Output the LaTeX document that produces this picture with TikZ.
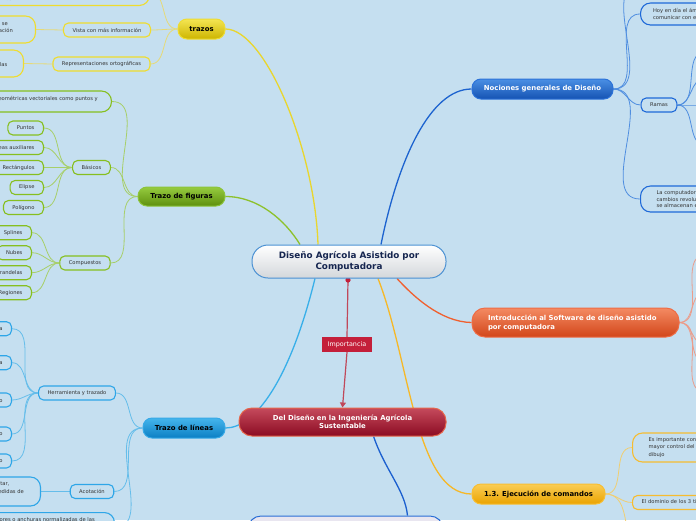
\documentclass[tikz,border=0pt]{standalone}
\usepackage{fontspec}
\setmainfont{DejaVu Sans}
\usetikzlibrary{arrows.meta,calc}
\pgfdeclarelayer{edges}
\pgfsetlayers{edges,main}
\definecolor{bg}{HTML}{C5DFF0}
\definecolor{txt}{HTML}{333333}
\definecolor{trzT}{HTML}{F4E552}\definecolor{trzB}{HTML}{CDB500}\definecolor{trzD}{HTML}{EEDC33}
\definecolor{subTrz}{HTML}{EFDC2E}\definecolor{lTrz}{HTML}{E6DA78}\definecolor{cTrz}{HTML}{E9D62D}
\definecolor{figT}{HTML}{96CB3F}\definecolor{figB}{HTML}{5E900E}\definecolor{figD}{HTML}{8CC43A}
\definecolor{subFig}{HTML}{86BF1F}\definecolor{lFig}{HTML}{A7CF69}\definecolor{cFig}{HTML}{8DC12B}
\definecolor{linT}{HTML}{45B5EC}\definecolor{linB}{HTML}{0B7FC4}\definecolor{linD}{HTML}{37A9E6}
\definecolor{subLin}{HTML}{2EA6E8}\definecolor{lLin}{HTML}{65BDEA}\definecolor{cLin}{HTML}{38AFE9}
\definecolor{nocT}{HTML}{4A8FE4}\definecolor{nocB}{HTML}{1553B3}\definecolor{nocD}{HTML}{2C72D8}
\definecolor{subNoc}{HTML}{1F69D8}\definecolor{lNoc}{HTML}{4F8EE0}\definecolor{cNoc}{HTML}{1D63CF}
\definecolor{intT}{HTML}{F48A62}\definecolor{intB}{HTML}{D2461A}\definecolor{intD}{HTML}{EE6C45}
\definecolor{lInt}{HTML}{EC9C8A}\definecolor{cInt}{HTML}{F0602F}
\definecolor{ejeT}{HTML}{FACD55}\definecolor{ejeB}{HTML}{EAA300}\definecolor{ejeD}{HTML}{F7BE33}
\definecolor{subEje}{HTML}{F6BC30}\definecolor{lEje}{HTML}{F1CE70}\definecolor{cEje}{HTML}{F6B828}
\definecolor{ddT}{HTML}{C54A5C}\definecolor{ddB}{HTML}{8C0B22}\definecolor{ddD}{HTML}{E5654A}
\definecolor{impC}{HTML}{C41F3A}\definecolor{impL}{HTML}{C0485A}
\definecolor{cenB}{HTML}{D3D7DB}\definecolor{cenD}{HTML}{4B91D3}\definecolor{cenT}{HTML}{15254F}
\definecolor{botD}{HTML}{2A6ED6}\definecolor{botF}{HTML}{E9E6F0}\definecolor{cBot}{HTML}{1B5FCF}
\newcommand\subf{\fontsize{5.2}{6.8}\selectfont}
\newcommand\mainf{\fontsize{6.9}{8.6}\selectfont\bfseries}
\newcommand\cenf{\fontsize{8.8}{11}\selectfont\bfseries}
\newcommand\impf{\fontsize{6.4}{7}\selectfont}
\tikzset{
 sub/.style={draw, line width=1.1pt, rounded corners=5pt, fill=bg, font=\subf, text=txt, inner xsep=9pt, inner ysep=0pt, minimum height=14pt},
 subbig/.style={sub, rounded corners=10pt, align=left},
 frag/.style={font=\subf, text=txt, inner sep=0pt},
 mainn/.style={rounded corners=9pt, line width=1pt, inner sep=0pt, font=\mainf, minimum height=20pt, align=center},
 mline/.style={line width=1.3pt},
 sline/.style={line width=0.8pt},
}
\begin{document}
\begin{tikzpicture}[x=1pt,y=-1pt]
\useasboundingbox (0,0) rectangle (696,520);
% ---------- main nodes
\node[mainn, rounded corners=16pt, minimum width=194pt, minimum height=33pt, top color=white, bottom color=cenB, draw=cenD, text=cenT, font=\cenf] (c) at (349,261.5) {Diseño Agrícola Asistido por\\Computadora};
\node[mainn, minimum width=47pt, top color=trzT, bottom color=trzB, draw=trzD, text=black] (trz) at (201.5,29) {trazos};
\node[mainn, minimum width=87pt, minimum height=19pt, top color=figT, bottom color=figB, draw=figD, text=black] (fig) at (181.5,196.5) {Trazo de figuras};
\node[mainn, minimum width=82pt, top color=linT, bottom color=linB, draw=linD, text=black] (lin) at (184,428) {Trazo de líneas};
\node[mainn, minimum width=141pt, top color=nocT, bottom color=nocB, draw=nocD, text=white] (noc) at (542.5,89) {Nociones generales de Diseño};
\node[mainn, rounded corners=13pt, minimum width=207pt, minimum height=29pt, text width=175pt, align=left, top color=intT, bottom color=intB, draw=intD, text=white, font=\fontsize{6.9}{9}\selectfont\bfseries] (int) at (575.5,322.5) {Introducción al Software de diseño asistido\\por computadora};
\node[mainn, minimum width=133pt, top color=ejeT, bottom color=ejeB, draw=ejeD, text=black] (eje) at (538.5,494) {1.3. Ejecución de comandos};
\node[mainn, rounded corners=13pt, minimum width=207pt, minimum height=28pt, top color=ddT, bottom color=ddB, draw=ddD, text=white, font=\fontsize{6.9}{8.4}\selectfont\bfseries] (dd) at (342.5,422) {Del Diseño en la Ingeniería Agrícola\\Sustentable};
\node[fill=impC, text=white, font=\impf, minimum width=50pt, minimum height=15pt, inner sep=0pt] (imp) at (347,344.5) {Importancia};
\node[mainn, rounded corners=13pt, minimum width=195pt, minimum height=29pt, fill=botF, draw=botD] (bot) at (345.5,530.5) {};
% ---------- trazos children
\node[subbig, draw=subTrz, minimum width=220pt, minimum height=26pt, anchor=south east] (t1) at (150,6) {};
\node[frag, anchor=base east] (t1a) at (12,0.5) {herramientas};
\node[sub, draw=subTrz] (t2) at (107,30) {Vista con más información};
\node[subbig, draw=subTrz, minimum width=100pt, minimum height=27pt, anchor=east] (t3) at (36,29.5) {};
\node[frag, anchor=base east] (t3a) at (8,25.5) {Se utiliza cuando se};
\node[frag, anchor=base east] (t3b) at (13,32.2) {requiere más información};
\node[sub, draw=subTrz] (t4) at (101.5,64) {Representaciones ortográficas};
\node[subbig, draw=subTrz, minimum width=90pt, minimum height=27pt, anchor=east] (t5) at (24,63.5) {};
\node[frag, anchor=base east] (t5a) at (7.5,66) {Proyecciones paralelas};
% ---------- figuras children
\node[subbig, draw=subFig, minimum width=200pt, minimum height=21pt, anchor=east] (f1) at (112,101.5) {};
\node[frag, anchor=base east] (f1a) at (98,100.7) {Entidades geométricas vectoriales como puntos y};
\node[sub, draw=subFig] (bas) at (91.5,167.5) {Básicos};
\node[sub, draw=subFig, anchor=east] (f2) at (44,128) {Puntos};
\node[sub, draw=subFig, anchor=east] (f3) at (44,147.5) {Líneas auxiliares};
\node[sub, draw=subFig, anchor=east] (f4) at (44,167.5) {Rectángulos};
\node[sub, draw=subFig, anchor=east] (f5) at (44,187.5) {Elipse};
\node[sub, draw=subFig, anchor=east] (f6) at (44,207.5) {Polígono};
\node[sub, draw=subFig] (com) at (85,263) {Compuestos};
\node[sub, draw=subFig, anchor=east] (g1) at (32,232.7) {Splines};
\node[sub, draw=subFig, anchor=east] (g2) at (32,252.7) {Nubes};
\node[sub, draw=subFig, anchor=east] (g3) at (32,272.7) {Arandelas};
\node[sub, draw=subFig, anchor=east] (g4) at (32,292.7) {Regiones};
% ---------- lineas children
\node[sub, draw=subLin] (her) at (77,393) {Herramienta y trazado};
\node[sub, draw=subLin, anchor=east] (l1) at (12,328.7) {Línea};
\node[sub, draw=subLin, anchor=east] (l2) at (12,362.7) {Polilínea};
\node[sub, draw=subLin, anchor=east] (l3) at (12,400) {Círculo};
\node[sub, draw=subLin, anchor=east] (l4) at (12,434) {Arco};
\node[sub, draw=subLin, anchor=east] (l5) at (12,461) {Rectángulo};
\node[sub, draw=subLin] (aco) at (92,491.5) {Acotación};
\node[subbig, draw=subLin, minimum width=120pt, minimum height=29pt, anchor=east] (l6) at (41,491.5) {};
\node[frag, anchor=base east] (l6a) at (9.5,485.8) {Se utiliza para acotar,};
\node[frag, anchor=base east] (l6b) at (24,493.8) {es decir, indicar las medidas de};
\node[subbig, draw=subLin, minimum width=220pt, minimum height=30pt, anchor=north east] (l7) at (115,512) {};
\node[frag, anchor=base east] (l7a) at (95,521.3) {Se utilizan grosores o anchuras normalizadas de las};
% ---------- nociones children
\node[subbig, draw=subNoc, minimum width=100pt, minimum height=22pt, anchor=south west] (n0) at (640,-4) {};
\node[subbig, draw=subNoc, anchor=west, inner xsep=12.5pt, text width=120pt, minimum height=22pt, font=\fontsize{5.2}{6.7}\selectfont] (n1) at (640,14) {Hoy en día el ámbito del diseño\\comunicar con exactitud};
\node[sub, draw=subNoc] (ram) at (659,105) {Ramas};
\node[subbig, draw=subNoc, anchor=west, inner xsep=16pt, text width=120pt, minimum height=26pt, font=\fontsize{5.2}{6.5}\selectfont] (n3) at (640,199) {La computadora ha traído\\cambios revolucionarios\\se almacenan en archivos};
\coordinate (r1) at (705,52);
\coordinate (r2) at (705,78);
\coordinate (r3) at (705,105);
\coordinate (r4) at (705,145);
% ---------- intro children
\coordinate (i1) at (705,255);
\coordinate (i2) at (705,292);
\coordinate (i3) at (705,345);
\coordinate (i4) at (705,362);
\coordinate (i5) at (705,392);
% ---------- ejecucion children
\node[subbig, draw=subEje, anchor=west, inner xsep=16pt, text width=120pt, minimum height=29pt, font=\fontsize{5.2}{7.5}\selectfont] (e1) at (632,447.5) {Es importante conocer\\mayor control del\\dibujo};
\node[sub, draw=subEje, anchor=west, text width=120pt] (e2) at (632,502.5) {El dominio de los 3 tipos};
\coordinate (e3) at (628,535);
% ---------- connectors
\begin{pgfonlayer}{edges}
\fill[bg] (0,0) rectangle (696,520);
\draw[mline,cTrz] ($(c.north)+(-31,0)$) .. controls (315,150) and (265,29) .. (trz.east);
\draw[mline,cFig] ($(c.north)+(-49,0)$) .. controls (285,220) and (258,196.5) .. (fig.east);
\draw[mline,cNoc] ($(c.north)+(32,0)$) .. controls (398,160) and (430,89) .. (noc.west);
\draw[mline,cInt] ($(c.south)+(48,0)$) .. controls (412,295) and (440,322) .. (int.west);
\draw[mline,cEje] ($(c.south)+(29,0)$) .. controls (410,360) and (415,494) .. (eje.west);
\draw[mline,cLin] ($(c.south)+(-34,0)$) .. controls (290,380) and (255,428) .. (lin.east);
\draw[mline,cBot] (dd.-25) .. controls (385,470) and (405,490) .. ($(bot.north)+(62,0)$);
\coordinate (dot) at ($(c.south)+(-1,1.5)$);
\draw[line width=1.2pt, impL] (dot) -- (imp.north);
\draw[line width=1.2pt, impL, -{Triangle[length=5pt,width=6pt]}] (imp.south) -- (dd.north);
\fill[impC] (dot) circle (2.6pt);
\foreach \n in {t1,t2,t4} \draw[sline,lTrz] (trz.west) to[out=180,in=0] (\n.east);
\draw[sline,lTrz] (t3.east) -- (t2.west);
\draw[sline,lTrz] (t5.east) -- (t4.west);
\foreach \n in {f1,bas,com} \draw[sline,lFig] (fig.west) to[out=180,in=0] (\n.east);
\foreach \n in {f2,f3,f4,f5,f6} \draw[sline,lFig] (bas.west) to[out=180,in=0] (\n.east);
\foreach \n in {g1,g2,g3,g4} \draw[sline,lFig] (com.west) to[out=180,in=0] (\n.east);
\foreach \n in {her,aco,l7} \draw[sline,lLin] (lin.west) to[out=180,in=0] (\n.east);
\foreach \n in {l1,l2,l3,l4,l5} \draw[sline,lLin] (her.west) to[out=180,in=0] (\n.east);
\draw[sline,lLin] (aco.west) -- (l6.east);
\foreach \n in {n0,n1,ram,n3} \draw[sline,lNoc] (noc.east) to[out=0,in=180] (\n.west);
\foreach \n in {r1,r2,r3,r4} \draw[sline,lNoc] (ram.east) to[out=0,in=180] (\n);
\foreach \n in {i1,i2,i3,i4,i5} \draw[sline,lInt] (int.east) to[out=0,in=180] (\n);
\foreach \n in {e1,e2} \draw[sline,lEje] (eje.east) to[out=0,in=180] (\n.west);
\draw[sline,lEje] (eje.east) to[out=0,in=100] (e3);
\end{pgfonlayer}
\end{tikzpicture}
\end{document}
